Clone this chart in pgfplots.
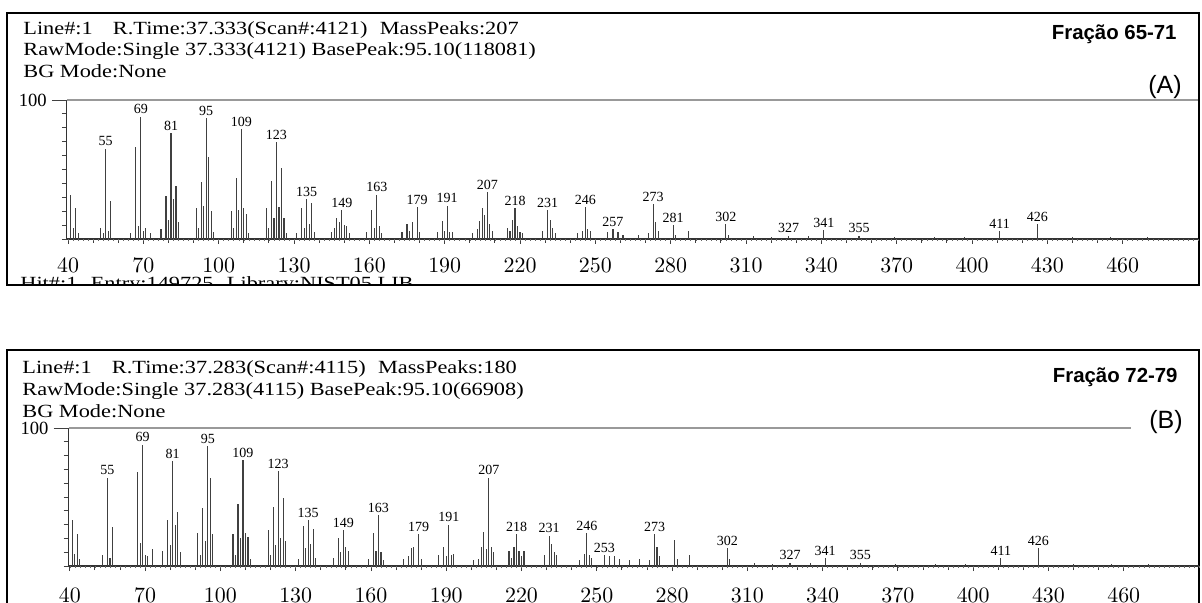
\documentclass[border=0pt]{standalone}
\usepackage{fontspec}
\setmainfont{Liberation Serif}
\newfontfamily\sansf{Liberation Sans}
\usepackage{graphicx}
\usepackage{pgfplots}
\usepackage{pgfplotstable}
\pgfplotsset{compat=1.18}

\pgfplotstableread{
mz I
41 32
42 8
43 22
44 4
53 8
54 4
55 65
56 6
57 27
65 4
67 66
68 9
69 88
70 6
71 8
73 4
77 7
79 31
80 14
81 76
82 29
83 38
84 12
91 22
92 8
93 41
94 24
95 87
96 59
97 20
98 5
105 20
106 8
107 44
108 21
109 79
110 22
111 18
112 4
119 22
120 8
121 42
122 15
123 70
124 23
125 51
126 15
127 4
131 4
133 22
134 8
135 29
136 11
137 26
138 5
145 5
146 8
147 15
148 12
149 21
150 10
151 9
152 4
159 5
161 21
162 8
163 32
164 9
165 4
173 5
175 11
176 6
177 12
179 23
180 5
187 5
189 13
190 6
191 24
192 5
193 5
201 4
203 7
204 13
205 22
206 17
207 34
208 11
209 6
215 8
216 6
217 14
218 22
219 9
220 5
221 4
229 6
231 21
232 14
233 8
234 4
243 4
245 6
246 23
247 7
248 6
255 5
257 7
259 5
261 3
267 3
271 4
273 25
274 12
275 6
281 10
282 3
287 6
302 11
303 3
313 2
320 1.5
327 2.5
335 2
341 6.5
355 2.5
369 1.5
385 1.5
397 1.5
411 5.5
426 11
440 1.5
455 1.5
470 1.5
}\specA

\pgfplotstableread{
mz I
55 65
69 88
81 76
95 87
109 79
123 70
135 29
149 21
163 32
179 23
191 24
207 34
218 22
231 21
246 23
257 7
273 25
281 10
302 11
327 2.5
341 6.5
355 2.5
411 5.5
426 11
}\labA

\pgfplotstableread{
mz I
41 33
42 9
43 23
44 5
53 8
55 64
56 6
57 28
67 68
68 17
69 88
70 8
71 7
73 12
77 11
79 33
80 15
81 76
82 30
83 39
84 10
91 24
92 8
93 42
94 18
95 87
96 64
97 23
105 23
106 8
107 45
108 20
109 77
110 24
111 21
112 5
119 26
120 8
121 43
122 15
123 69
124 20
125 49
126 18
131 5
133 29
134 13
135 33
136 16
137 27
138 6
145 6
147 20
148 10
149 26
150 14
151 11
159 5
161 24
162 11
163 37
164 10
165 4
173 5
175 7
176 13
177 14
179 23
180 5
187 8
189 14
190 7
191 30
192 8
193 9
201 4
203 5
204 14
205 25
206 12
207 64
208 14
209 10
215 11
216 6
217 14
218 23
219 11
220 7
221 11
229 8
231 22
232 16
233 10
234 8
243 4
245 9
246 24
247 8
248 6
253 8
255 7
257 7
259 5
263 4
267 5
271 4
273 23
274 14
275 7
281 19
282 5
287 8
302 13
303 5
313 2
320 1.5
327 2.5
335 2
341 5.5
355 2.5
369 1.5
385 1.5
397 1.5
411 6
426 13
440 1.5
455 1.5
470 1.5
}\specB

\pgfplotstableread{
mz I
55 64
69 88
81 76
95 87
109 77
123 69
135 33
149 26
163 37
179 23
191 30
207 64
218 23
231 22
246 24
253 8
273 23
302 13
327 2.5
341 5.5
355 2.5
411 6
426 13
}\labB

\pgfplotsset{
  msaxis/.style={
    scale only axis,
    anchor=south west,
    height=69.5pt,
    xmin=39.5, xmax=490, ymin=0, ymax=100,
    axis x line*=bottom, axis y line*=left,
    axis line style={black!80, line width=0.6pt},
    xtick={40,70,...,460},
    minor x tick num=2,
    extra x ticks={40,42,...,490},
    extra x tick labels={},
    extra x tick style={major tick length=1pt, tick style={black!60, line width=0.3pt}},
    ytick={0,10,...,90},
    yticklabels={},
    extra y ticks={100},
    extra y tick labels={100},
    extra y tick style={major tick length=7.5pt, yticklabel style={font=\fontsize{9.3}{10}\selectfont, xshift=1pt}},
    tick align=outside,
    major tick length=2.5pt,
    minor tick length=2pt,
    tick style={black!75, line width=0.45pt},
    xticklabel style={font=\fontsize{11}{12}\selectfont},
    clip=false,
  },
  peaks/.style={ycomb, black!75, line width=0.55pt, mark=none},
  plabels/.style={ycomb, black!75, line width=0.55pt, mark=none,
    point meta=explicit symbolic,
    nodes near coords,
    nodes near coords style={font=\fontsize{7}{8}\selectfont, black, inner sep=1pt, anchor=south}},
}

\newcommand{\hdr}[1]{\scalebox{1.2}[1]{\fontsize{9.3}{11}\selectfont #1}}

\begin{document}
\begin{tikzpicture}
\path[use as bounding box] (0,0) rectangle (601pt,-301.5pt);

% ---------- Panel A ----------
\draw[line width=1pt] (3.5pt,-6.5pt) rectangle (599.5pt,-142.5pt);
\begin{scope}
\clip (4pt,-137pt) rectangle (599pt,-142pt);
\node[anchor=base west, inner sep=0pt] at (10pt,-145pt) {\hdr{Hit\#:1\hspace{0.6em}Entry:149725\hspace{0.6em}Library:NIST05.LIB}};
\end{scope}
\node[anchor=base west, inner sep=0pt] at (11.5pt,-17.5pt) {\hdr{Line\#:1\hspace{0.9em}R.Time:37.333(Scan\#:4121)\hspace{0.55em}MassPeaks:207}};
\node[anchor=base west, inner sep=0pt] at (11.5pt,-28pt) {\hdr{RawMode:Single 37.333(4121) BasePeak:95.10(118081)}};
\node[anchor=base west, inner sep=0pt] at (11.5pt,-38.8pt) {\hdr{BG Mode:None}};
\node[anchor=east, inner sep=0pt, font=\sansf\bfseries\fontsize{10.2}{12}\selectfont] at (588.5pt,-17pt) {Fração 65-71};
\node[anchor=east, inner sep=0pt, font=\sansf\fontsize{12.5}{14}\selectfont] at (591pt,-43.5pt) {(A)};

\begin{axis}[msaxis, at={(33.4pt,-119.5pt)}, width=565.6pt, xticklabel style={yshift=-3.5pt}]
\addplot[peaks] table[x=mz, y=I] {\specA};
\addplot[plabels] table[x=mz, y=I, meta=mz] {\labA};
\draw[gray!80, line width=0.6pt] (axis cs:39.5,100) -- (axis cs:490,100);
\end{axis}

% ---------- Panel B ----------
\draw[line width=1pt] (3.5pt,-310pt) -- (3.5pt,-175pt) -- (599.5pt,-175pt) -- (599.5pt,-310pt);
\node[anchor=base west, inner sep=0pt] at (11pt,-186.5pt) {\hdr{Line\#:1\hspace{0.9em}R.Time:37.283(Scan\#:4115)\hspace{0.55em}MassPeaks:180}};
\node[anchor=base west, inner sep=0pt] at (11pt,-197.5pt) {\hdr{RawMode:Single 37.283(4115) BasePeak:95.10(66908)}};
\node[anchor=base west, inner sep=0pt] at (11pt,-208.5pt) {\hdr{BG Mode:None}};
\node[anchor=east, inner sep=0pt, font=\sansf\bfseries\fontsize{10.2}{12}\selectfont] at (589pt,-188.5pt) {Fração 72-79};
\node[anchor=east, inner sep=0pt, font=\sansf\fontsize{12.5}{14}\selectfont] at (591.5pt,-211pt) {(B)};

\begin{axis}[msaxis, at={(34.3pt,-283pt)}, width=565.2pt, height=69pt, xticklabel style={yshift=-5pt}]
\addplot[peaks] table[x=mz, y=I] {\specB};
\addplot[plabels] table[x=mz, y=I, meta=mz] {\labB};
\draw[gray!80, line width=0.6pt] (axis cs:39.5,100) -- (axis cs:463,100);
\end{axis}
\end{tikzpicture}
\end{document}
